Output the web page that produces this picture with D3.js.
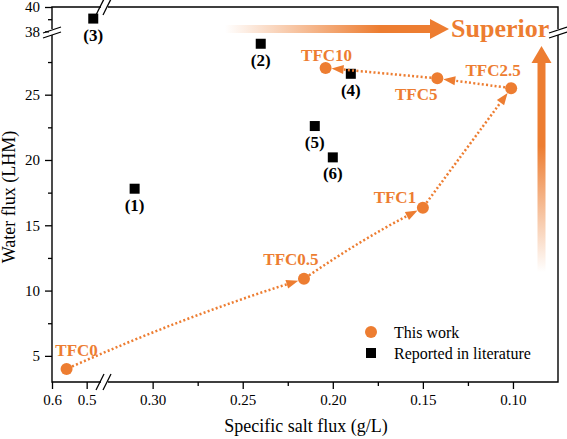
<!DOCTYPE html>
<html><head><meta charset="utf-8">
<script src="https://cdn.jsdelivr.net/npm/d3@7"></script>
<style>
html,body{margin:0;padding:0;background:#fff;}
svg{display:block;}
</style></head>
<body>
<svg id="chart" width="567" height="439" font-family="Liberation Serif, Times New Roman, serif"></svg>
<script>
// ---- data ----
const tfcLabels = ["TFC0","TFC0.5","TFC1","TFC2.5","TFC5","TFC10"];
const tfcSalt   = [0.558, 0.216, 0.150, 0.101, 0.142, 0.204];
const tfcWater  = [4.0, 10.9, 16.35, 25.5, 26.25, 27.05];
const litLabels = ["(1)","(2)","(3)","(4)","(5)","(6)"];
const litSalt   = [0.310, 0.240, 0.481, 0.190, 0.210, 0.200];
const litWater  = [17.8, 28.9, 39.05, 26.6, 22.6, 20.2];
const xTicksLeft  = [0.6, 0.5];
const xTicksRight = [0.30, 0.25, 0.20, 0.15, 0.10];
const xMinorRight = [0.275, 0.225, 0.175, 0.125];
const yTicksLow   = [5, 10, 15, 20, 25];
const yMinorLow   = [7.5, 12.5, 17.5, 22.5, 27.5];
const yTicksHigh  = [38, 40];
const yMinorHigh  = [39];
const legendLabels = ["This work", "Reported in literature"];

// ---- layout ----
const FONT = "Liberation Serif, Times New Roman, serif";
const ORANGE = "#ED7D31";
const L = 52, R = 558, T = 7, B = 382, XB = 104, YB = 32;
const svg = d3.select("#chart");

const xL = d3.scaleLinear().domain([0.6, 0.45]).range([L, XB]);
const xR = d3.scaleLinear().domain([0.327, 0.075]).range([XB, R]);
const yLo = d3.scaleLinear().domain([3, 29.8]).range([B, YB]);
const yHi = d3.scaleLinear().domain([37.95, 40]).range([YB, T]);
const px = v => v > 0.4 ? xL(v) : xR(v);
const py = v => v > 33 ? yHi(v) : yLo(v);

// gradients
const defs = svg.append("defs");
const gh = defs.append("linearGradient").attr("id","gh").attr("x1","0").attr("x2","1").attr("y1","0").attr("y2","0");
gh.append("stop").attr("offset","0").attr("stop-color",ORANGE).attr("stop-opacity",0);
gh.append("stop").attr("offset","0.75").attr("stop-color",ORANGE).attr("stop-opacity",1);
gh.append("stop").attr("offset","1").attr("stop-color",ORANGE).attr("stop-opacity",1);
const gv = defs.append("linearGradient").attr("id","gv").attr("x1","0").attr("x2","0").attr("y1","1").attr("y2","0");
gv.append("stop").attr("offset","0").attr("stop-color",ORANGE).attr("stop-opacity",0);
gv.append("stop").attr("offset","0.6").attr("stop-color",ORANGE).attr("stop-opacity",1);
gv.append("stop").attr("offset","1").attr("stop-color",ORANGE).attr("stop-opacity",1);

// Superior arrows
svg.append("rect").attr("x",225).attr("y",25).attr("width",206).attr("height",8).attr("fill","url(#gh)");
svg.append("path").attr("d","M430,19 L449,29 L430,39 Z").attr("fill",ORANGE);
svg.append("rect").attr("x",537.5).attr("y",62).attr("width",8).attr("height",210).attr("fill","url(#gv)");
svg.append("path").attr("d","M531.5,63 L541.5,46 L551.5,63 Z").attr("fill",ORANGE);
svg.append("text").attr("x",451).attr("y",37).attr("fill",ORANGE).attr("font-family",FONT)
  .attr("font-size",26).attr("font-weight","bold").text("Superior");

// axes
function styleAxis(g){
  g.attr("font-family",FONT);
  g.select(".domain").remove();
  g.selectAll("line").attr("stroke","#000").attr("stroke-width",1.3);
  g.selectAll("text").attr("font-family",FONT).attr("font-size",15).attr("fill","#000");
}
const f1 = d3.format(".1f"), f2 = d3.format(".2f"), fd = d3.format("d");
svg.append("g").attr("transform",`translate(0,${B})`)
  .call(d3.axisBottom(xL).tickValues(xTicksLeft).tickFormat(f1).tickSize(7).tickPadding(5)).call(styleAxis);
svg.append("g").attr("transform",`translate(0,${B})`)
  .call(d3.axisBottom(xR).tickValues(xTicksRight).tickFormat(f2).tickSize(7).tickPadding(5)).call(styleAxis);
svg.append("g").attr("transform",`translate(0,${B})`)
  .call(d3.axisBottom(xR).tickValues(xMinorRight).tickFormat("").tickSize(4)).call(styleAxis);
svg.append("g").attr("transform",`translate(${L},0)`)
  .call(d3.axisLeft(yLo).tickValues(yTicksLow).tickFormat(fd).tickSize(7).tickPadding(5)).call(styleAxis);
svg.append("g").attr("transform",`translate(${L},0)`)
  .call(d3.axisLeft(yLo).tickValues(yMinorLow).tickFormat("").tickSize(4)).call(styleAxis);
svg.append("g").attr("transform",`translate(${L},0)`)
  .call(d3.axisLeft(yHi).tickValues(yTicksHigh).tickFormat(fd).tickSize(7).tickPadding(5)).call(styleAxis);
svg.append("g").attr("transform",`translate(${L},0)`)
  .call(d3.axisLeft(yHi).tickValues(yMinorHigh).tickFormat("").tickSize(4)).call(styleAxis);

// frame
svg.append("path").attr("d",`M${L},${T}V${B}H${R}V${T}H${L}`)
  .attr("stroke","#000").attr("stroke-width",1.4).attr("fill","none").attr("stroke-linecap","square");

// break marks
function hBreak(x,y){
  svg.append("rect").attr("x",x-3).attr("y",y-3).attr("width",7).attr("height",6).attr("fill","#fff");
  svg.append("line").attr("x1",x-8).attr("y1",y+8).attr("x2",x).attr("y2",y-8).attr("stroke","#000").attr("stroke-width",1.3);
  svg.append("line").attr("x1",x-1).attr("y1",y+8).attr("x2",x+7).attr("y2",y-8).attr("stroke","#000").attr("stroke-width",1.3);
}
function vBreak(x,y){
  svg.append("rect").attr("x",x-3).attr("y",y-3).attr("width",6).attr("height",6).attr("fill","#fff");
  svg.append("line").attr("x1",x-9).attr("y1",y+1).attr("x2",x+9).attr("y2",y-5).attr("stroke","#000").attr("stroke-width",1.3);
  svg.append("line").attr("x1",x-9).attr("y1",y+6).attr("x2",x+9).attr("y2",y).attr("stroke","#000").attr("stroke-width",1.3);
}
hBreak(XB, B); hBreak(XB, T);
vBreak(L, YB); vBreak(R, YB);

// axis titles
svg.append("text").attr("x",306).attr("y",432).attr("text-anchor","middle").attr("font-family",FONT)
  .attr("font-size",18).text("Specific salt flux (g/L)");
svg.append("text").attr("transform","translate(15,197) rotate(-90)").attr("text-anchor","middle").attr("font-family",FONT)
  .attr("font-size",18).text("Water flux (LHM)");

// literature squares
const SQ = 10;
const lit = litLabels.map((l,i)=>({l, x:px(litSalt[i]), y:py(litWater[i])}));
svg.append("g").selectAll("rect").data(lit).join("rect")
  .attr("x",d=>d.x-SQ/2).attr("y",d=>d.y-SQ/2).attr("width",SQ).attr("height",SQ).attr("fill","#000");
svg.append("g").selectAll("text").data(lit).join("text")
  .attr("x",d=>d.x).attr("y",d=>d.y+22).attr("text-anchor","middle").attr("font-family",FONT)
  .attr("font-size",17).attr("font-weight","bold").text(d=>d.l);

// this work path with arrows (slightly bowed dotted connectors)
const RC = 6;
const bends = [7, 4, 0, 0, 0];
const tfc = tfcLabels.map((l,i)=>({l, x:px(tfcSalt[i]), y:py(tfcWater[i])}));
const arrowG = svg.append("g");
for (let i=0;i<tfc.length-1;i++){
  const a=tfc[i], b=tfc[i+1];
  const dx=b.x-a.x, dy=b.y-a.y, len=Math.hypot(dx,dy), ux=dx/len, uy=dy/len;
  const nx=uy, ny=-ux; // perpendicular
  const mx=(a.x+b.x)/2+nx*bends[i], my=(a.y+b.y)/2+ny*bends[i];
  // start / end along the directions to control point
  let sx=mx-a.x, sy=my-a.y, sl=Math.hypot(sx,sy); sx/=sl; sy/=sl;
  let ex=b.x-mx, ey=b.y-my, el=Math.hypot(ex,ey); ex/=el; ey/=el;
  const x0=a.x+sx*RC, y0=a.y+sy*RC;
  const tipX=b.x-ex*RC, tipY=b.y-ey*RC;
  const AL=12, AW=4.5;
  const bx=tipX-ex*AL, by=tipY-ey*AL;
  const p = d3.path();
  p.moveTo(x0,y0); p.quadraticCurveTo(mx,my,bx,by);
  arrowG.append("path").attr("d",p.toString()).attr("fill","none")
    .attr("stroke",ORANGE).attr("stroke-width",2.5).attr("stroke-dasharray","2 2.3");
  arrowG.append("path")
    .attr("d",`M${tipX},${tipY}L${bx-ey*AW},${by+ex*AW}L${bx+ey*AW},${by-ex*AW}Z`)
    .attr("fill",ORANGE);
}
svg.append("g").selectAll("circle").data(tfc).join("circle")
  .attr("cx",d=>d.x).attr("cy",d=>d.y).attr("r",RC).attr("fill",ORANGE);

const labelOffsets = {"TFC0":[10,-13],"TFC0.5":[-13,-14],"TFC1":[-28,-5],"TFC2.5":[-18,-12],"TFC5":[-21,22],"TFC10":[1,-7]};
svg.append("g").selectAll("text").data(tfc).join("text")
  .attr("x",d=>d.x+labelOffsets[d.l][0]).attr("y",d=>d.y+labelOffsets[d.l][1])
  .attr("text-anchor","middle").attr("fill",ORANGE).attr("font-family",FONT)
  .attr("font-size",17).attr("font-weight","bold").text(d=>d.l);

// legend
const lg = svg.append("g");
lg.append("circle").attr("cx",371).attr("cy",332).attr("r",RC).attr("fill",ORANGE);
lg.append("rect").attr("x",366).attr("y",348).attr("width",SQ).attr("height",SQ).attr("fill","#000");
lg.selectAll("text").data(legendLabels).join("text")
  .attr("x",394).attr("y",(d,i)=>338+i*21).attr("font-family",FONT).attr("font-size",16).text(d=>d);
</script>
</body></html>
